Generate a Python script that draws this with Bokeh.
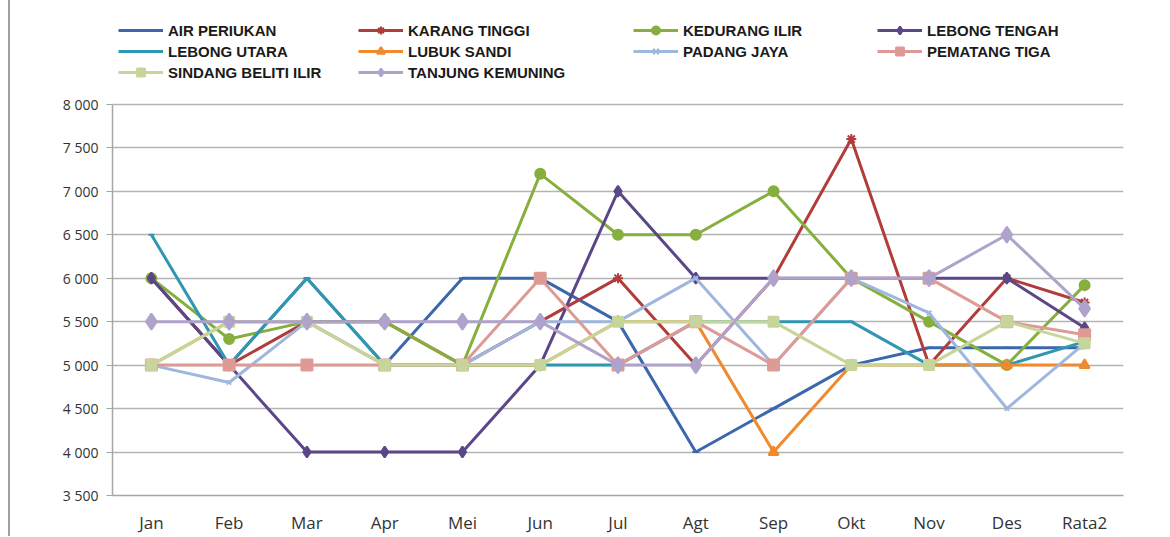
from bokeh.plotting import figure
from bokeh.models import Range1d, FixedTicker, Legend, LegendItem, ColumnDataSource, FactorRange
from bokeh.embed import file_html
from bokeh.resources import INLINE

months = ["Jan", "Feb", "Mar", "Apr", "Mei", "Jun", "Jul", "Agt", "Sep", "Okt", "Nov", "Des", "Rata2"]

air_periukan = [6000, 5000, 6000, 5000, 6000, 6000, 5500, 4000, 4500, 5000, 5200, 5200, 5200]
karang_tinggi = [6000, 5000, 5500, 5500, 5000, 5500, 6000, 5000, 6000, 7600, 5000, 6000, 5720]
kedurang_ilir = [6000, 5300, 5500, 5500, 5000, 7200, 6500, 6500, 7000, 6000, 5500, 5000, 5920]
lebong_tengah = [6000, 5000, 4000, 4000, 4000, 5000, 7000, 6000, 6000, 6000, 6000, 6000, 5430]
lebong_utara = [6500, 5000, 6000, 5000, 5000, 5000, 5000, 5500, 5500, 5500, 5000, 5000, 5270]
lubuk_sandi = [5000, 5500, 5500, 5000, 5000, 5000, 5500, 5500, 4000, 5000, 5000, 5000, 5000]
padang_jaya = [5000, 4800, 5500, 5000, 5000, 5500, 5500, 6000, 5000, 6000, 5600, 4500, 5250]
pematang_tiga = [5000, 5000, 5000, 5000, 5000, 6000, 5000, 5500, 5000, 6000, 6000, 5500, 5350]
sindang_beliti_ilir = [5000, 5500, 5500, 5000, 5000, 5000, 5500, 5500, 5500, 5000, 5000, 5500, 5250]
tanjung_kemuning = [5500, 5500, 5500, 5500, 5500, 5500, 5000, 5000, 6000, 6000, 6000, 6500, 5650]

series_names = ["AIR PERIUKAN", "KARANG TINGGI", "KEDURANG ILIR", "LEBONG TENGAH", "LEBONG UTARA",
                "LUBUK SANDI", "PADANG JAYA", "PEMATANG TIGA", "SINDANG BELITI ILIR", "TANJUNG KEMUNING"]
series_values = [air_periukan, karang_tinggi, kedurang_ilir, lebong_tengah, lebong_utara,
                 lubuk_sandi, padang_jaya, pematang_tiga, sindang_beliti_ilir, tanjung_kemuning]
y_ticks = [3500, 4000, 4500, 5000, 5500, 6000, 6500, 7000, 7500, 8000]

colors = ["#3B68AD", "#B23C3A", "#86AF3E", "#5B4787", "#2F97B2",
          "#F08A2E", "#9FB6DD", "#DE9B95", "#C6D69A", "#AFA3CB"]
markers = ["dash", "asterisk", "circle", "diamond", "dash",
           "triangle", "x", "square", "square", "diamond"]
msizes = [7, 10, 10, 11, 6, 10, 6, 11, 10, 16]

# frame spans from page y=18 to y=496; 3500..8000 occupies the lower 392 px
frame_top, frame_bottom, axis_px = 18, 496, 392
y_start, y_stop = y_ticks[0], y_ticks[-1]
y_end = y_start + (y_stop - y_start) * (frame_bottom - frame_top) / axis_px

p = figure(width=1160, height=536, x_range=FactorRange(*months), y_range=Range1d(y_start, y_end),
           output_backend="svg", toolbar_location=None,
           min_border_left=102, min_border_right=47, min_border_top=frame_top, min_border_bottom=40)
p.styles = {"border-left": "2px solid #A0A0A0", "margin-left": "8px"}
p.outline_line_color = None
p.background_fill_color = "white"
p.border_fill_color = "white"

p.xgrid.grid_line_color = None
p.ygrid.grid_line_color = "#B3B3B3"
p.ygrid.grid_line_width = 1.5

p.yaxis.ticker = FixedTicker(ticks=y_ticks)
p.yaxis.bounds = (y_start, y_stop)
p.yaxis.major_label_overrides = {t: f"{t // 1000} {t % 1000:03d}" for t in y_ticks}
p.yaxis.axis_line_color = "#A6A6A6"
p.yaxis.axis_line_width = 1.5
p.yaxis.major_tick_line_color = "#A6A6A6"
p.yaxis.major_tick_in = 0
p.yaxis.major_tick_out = 6
p.yaxis.minor_tick_line_color = None
p.yaxis.major_label_text_font = "Open Sans"
p.yaxis.major_label_text_font_size = "14px"
p.yaxis.major_label_text_color = "#333333"
p.yaxis.major_label_standoff = 8

p.xaxis.axis_line_color = "#A6A6A6"
p.xaxis.axis_line_width = 1.5
p.xaxis.major_tick_line_color = None
p.xaxis.major_label_text_font = "Open Sans"
p.xaxis.major_label_text_font_size = "17px"
p.xaxis.major_label_text_color = "#333333"
p.xaxis.major_label_standoff = 9

items = []
for name, vals, c, m, s in zip(series_names, series_values, colors, markers, msizes):
    src = ColumnDataSource(dict(x=months, y=vals))
    ln = p.line("x", "y", source=src, line_color=c, line_width=3)
    sc = p.scatter("x", "y", source=src, marker=m, size=s, fill_color=c, line_color=c, line_width=2)
    items.append(LegendItem(label=name, renderers=[ln, sc]))

col_groups = [[0, 4, 8], [1, 5, 9], [2, 6], [3, 7]]
col_x = [6, 246, 521, 765]
for grp, x in zip(col_groups, col_x):
    h = len(grp) * 21 - 1
    lg = Legend(items=[items[i] for i in grp], location=(x, 475 - h), orientation="vertical",
                padding=0, margin=0, spacing=1, glyph_width=45, glyph_height=20,
                label_height=20, label_standoff=5,
                label_text_font="Liberation Sans", label_text_font_style="bold",
                label_text_font_size="15px", label_text_color="#1A1A1A",
                border_line_color=None, background_fill_alpha=0)
    p.add_layout(lg, "center")

open("out.html", "w").write(file_html(p, INLINE))
